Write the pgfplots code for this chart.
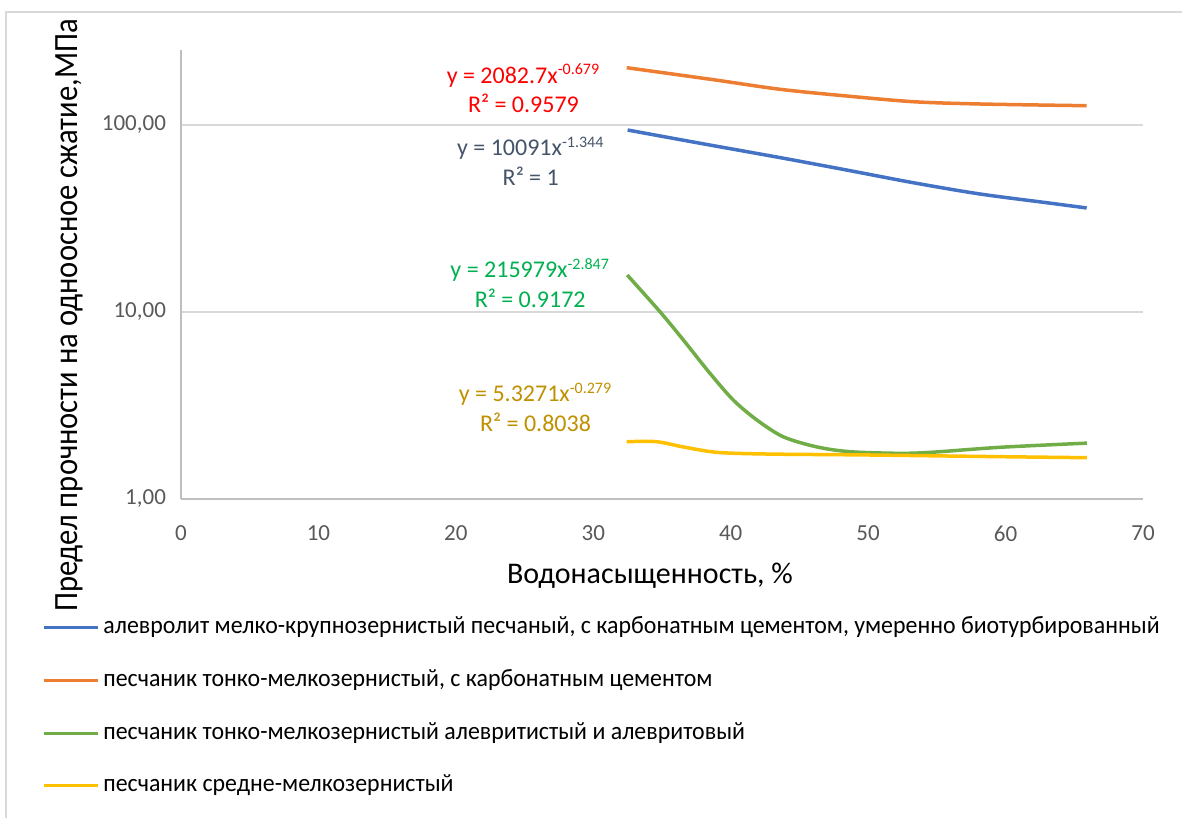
\documentclass[border=0pt]{standalone}
\usepackage{fontspec}
\setmainfont{Carlito}
\newfontfamily\legfont[FakeStretch=0.955]{Carlito}
\newfontfamily\ylfont[FakeStretch=0.9]{Carlito}
\usepackage{pgfplots}
\pgfplotsset{compat=1.18}
\definecolor{cBlue}{HTML}{4472C4}
\definecolor{cOrange}{HTML}{ED7D31}
\definecolor{cGreen}{HTML}{70AD47}
\definecolor{cYellow}{HTML}{FFC000}
\definecolor{eqRed}{HTML}{FF0000}
\definecolor{eqSlate}{HTML}{44546A}
\definecolor{eqGreen}{HTML}{00B050}
\definecolor{eqGold}{HTML}{BF9000}
\definecolor{gridgray}{HTML}{D9D9D9}
\definecolor{axisgray}{HTML}{BFBFBF}
\definecolor{tickgray}{HTML}{595959}
\begin{document}
\begin{tikzpicture}
\useasboundingbox (-90.5pt,-159.5pt) rectangle (500.5pt,249.5pt);
\draw[gridgray, line width=0.75pt] (-87.5pt,-159.5pt) -- (-87.5pt,243.5pt) -- (500.5pt,243.5pt);
\begin{axis}[
  at={(0pt,0pt)}, anchor=south west,
  scale only axis, width=481pt, height=224.5pt,
  xmin=0, xmax=70, ymode=log, ymin=1, ymax=251.8,
  xtick={0,10,...,70},
  ytick={1,10,100}, yticklabels={{1,00},{10,00},{100,00}},
  ymajorgrids, grid style={gridgray, line width=0.75pt},
  axis x line*=bottom, axis y line*=left,
  axis line style={-, draw=axisgray, line width=0.75pt},
  major tick length=0pt, tick style={draw=none},
  /pgf/number format/assume math mode=true,
  ticklabel style={font=\fontsize{11.5}{13}\selectfont, text=tickgray},
  xticklabel style={yshift=-10pt},
  yticklabel style={xshift=-4pt},
  xlabel={Водонасыщенность, \%},
  xlabel style={font=\fontsize{15}{18}\selectfont, at={(axis description cs:0.4875,-0.1871)}, anchor=base},
  ylabel={Предел прочности на одноосное сжатие,МПа},
  ylabel style={font=\ylfont\fontsize{17}{20}\selectfont, at={(axis description cs:-0.1164,0.4087)}, anchor=center},
  legend style={at={(axis description cs:-0.1445,-0.2584)}, anchor=north west, draw=none, fill=none,
    font=\legfont\fontsize{12.5}{14}\selectfont, inner sep=0pt, row sep=14.4pt,
    nodes={inner sep=0pt, text height=9pt, text depth=3pt}, column sep=2pt},
  legend cell align=left,
  legend image code/.code={\draw[#1, line width=1.5pt] (0pt,0pt) -- (27pt,0pt);},
]
\addplot[cBlue, line width=1.75pt, smooth, tension=0.5] coordinates {
(32.5,94.0) (37.8,79.8) (43.6,66.9) (48.4,57.5) (53.3,49.1) (58.1,42.8) (63.0,38.4) (65.9,36.0)};
\addlegendentry{алевролит мелко-крупнозернистый песчаный, с карбонатным цементом, умеренно биотурбированный}
\addplot[cOrange, line width=1.75pt, smooth, tension=0.5] coordinates {
(32.43,202.5) (38.73,174.7) (43.59,155.2) (48.44,142.9) (53.29,133.2) (58.14,129.5) (65.9,126.8)};
\addlegendentry{песчаник тонко-мелкозернистый, с карбонатным цементом}
\addplot[cGreen, line width=1.75pt, smooth, tension=0.5] coordinates {
(32.47,15.77) (34.85,10.04) (36.55,7.09) (38.49,4.70) (40.19,3.38) (41.89,2.65) (43.83,2.15) (46.26,1.90) (48.68,1.79) (52.32,1.755) (54.72,1.78) (59.59,1.89) (65.92,1.99)};
\addlegendentry{песчаник тонко-мелкозернистый алевритистый и алевритовый}
\addplot[cYellow, line width=1.75pt, smooth, tension=0.5] coordinates {
(32.43,2.025) (34.61,2.025) (36.53,1.90) (38.98,1.777) (42.62,1.74) (49.89,1.72) (59.59,1.684) (65.92,1.663)};
\addlegendentry{песчаник средне-мелкозернистый}
\node[text=eqRed, align=center, font=\fontsize{12}{14.75}\selectfont] at (axis cs:24.92,156.8) {y = 2082.7x\textsuperscript{-0.679}\\R² = 0.9579};
\node[text=eqSlate, align=center, font=\fontsize{12}{14.75}\selectfont] at (axis cs:25.45,64.2) {y = 10091x\textsuperscript{-1.344}\\R² = 1};
\node[text=eqGreen, align=center, font=\fontsize{12}{14.75}\selectfont] at (axis cs:25.41,14.29) {y = 215979x\textsuperscript{-2.847}\\R² = 0.9172};
\node[text=eqGold, align=center, font=\fontsize{12}{14.75}\selectfont] at (axis cs:25.80,3.10) {y = 5.3271x\textsuperscript{-0.279}\\R² = 0.8038};
\end{axis}
\end{tikzpicture}
\end{document}
